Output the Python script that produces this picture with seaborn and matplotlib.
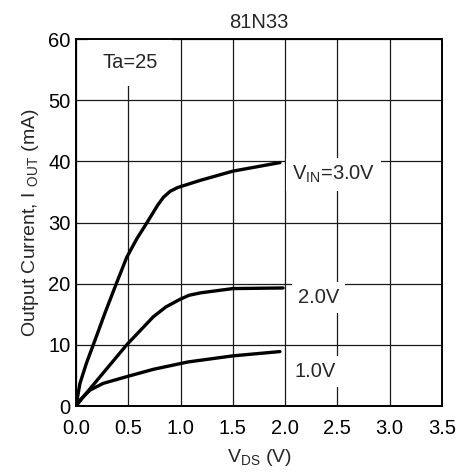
import matplotlib
matplotlib.use("Agg")
import matplotlib.pyplot as plt
import seaborn as sns
import pandas as pd

# ---- data ----
vds_30 = [0.0, 0.038, 0.10, 0.20, 0.277, 0.39, 0.485, 0.58, 0.676, 0.78, 0.835, 0.90, 0.97, 1.06, 1.19, 1.5, 1.95]
iout_30 = [0.0, 3.7, 7.0, 11.6, 15.2, 20.2, 24.3, 27.3, 29.9, 32.8, 34.1, 35.1, 35.7, 36.2, 36.9, 38.4, 39.8]

vds_20 = [0.0, 0.07, 0.26, 0.485, 0.74, 0.86, 0.99, 1.08, 1.19, 1.5, 1.98]
iout_20 = [0.0, 1.5, 5.4, 10.0, 14.6, 16.2, 17.4, 18.1, 18.5, 19.2, 19.3]

vds_10 = [0.0, 0.04, 0.134, 0.26, 0.485, 0.74, 1.07, 1.5, 1.95]
iout_10 = [0.0, 1.0, 2.6, 3.7, 4.8, 6.0, 7.2, 8.2, 8.9]

curve_labels = ["V$\\mathregular{_{IN}}$=3.0V", "2.0V", "1.0V"]
label_pos = [(2.065, 37.9), (2.12, 17.7), (2.09, 5.7)]

x_ticks = [0.0, 0.5, 1.0, 1.5, 2.0, 2.5, 3.0, 3.5]
y_ticks = [0, 10, 20, 30, 40, 50, 60]

title = "81N33"
x_label = "V$\\mathregular{_{DS}}$ (V)"
y_label = "Output Current, I $\\mathregular{_{OUT}}$ (mA)"
note = "Ta=25"

sns.set_style("white")
plt.rcParams["font.family"] = ["Liberation Sans", "DejaVu Sans"]
plt.rcParams["mathtext.fontset"] = "custom"
plt.rcParams["mathtext.rm"] = "Liberation Sans"

df = pd.concat([
    pd.DataFrame({"VDS": vds_30, "I": iout_30, "curve": "3.0"}),
    pd.DataFrame({"VDS": vds_20, "I": iout_20, "curve": "2.0"}),
    pd.DataFrame({"VDS": vds_10, "I": iout_10, "curve": "1.0"}),
])

fig = plt.figure(figsize=(4.63, 4.72), dpi=100)
ax = fig.add_axes([0.1641, 0.1398, 0.7905, 0.7775])

for name, sub in df.groupby("curve", sort=False):
    sns.lineplot(data=sub, x="VDS", y="I", ax=ax, color="black", lw=2.4,
                 sort=False, estimator=None, legend=False)
for ln in ax.lines:
    ln.set_solid_joinstyle("round")
    ln.set_solid_capstyle("round")

ax.set_xlim(0, 3.5)
ax.set_ylim(0, 60)
ax.set_xticks(x_ticks)
ax.set_yticks(y_ticks)
ax.set_xticklabels([f"{v:.1f}" for v in x_ticks])
ax.set_yticklabels([str(v) for v in y_ticks])
ax.tick_params(axis="both", length=0, labelsize=14.5, colors="black")
ax.tick_params(axis="x", pad=9)
ax.tick_params(axis="y", pad=4)
ax.grid(True, color="#1a1a1a", lw=0.9)
ax.set_axisbelow(True)
for s in ax.spines.values():
    s.set_color("black")
    s.set_linewidth(1.4)
    s.set_visible(True)
    s.set_zorder(5)

ax.set_title(title, fontsize=14.5, pad=8)
ax.set_xlabel(x_label, fontsize=14, labelpad=7)
ax.set_ylabel(y_label, fontsize=14, labelpad=5)

ax.text(0.516, 56.1, note, fontsize=14.5, ha="center", va="center",
        bbox=dict(boxstyle="square,pad=0.7", fc="white", ec="none"), zorder=3)
for lab, (lx, ly) in zip(curve_labels, label_pos):
    ax.text(lx, ly, lab, fontsize=14.5, ha="left", va="center",
            bbox=dict(boxstyle="square,pad=0.3", fc="white", ec="none"), zorder=3)

fig.savefig("out.png", dpi=100)
